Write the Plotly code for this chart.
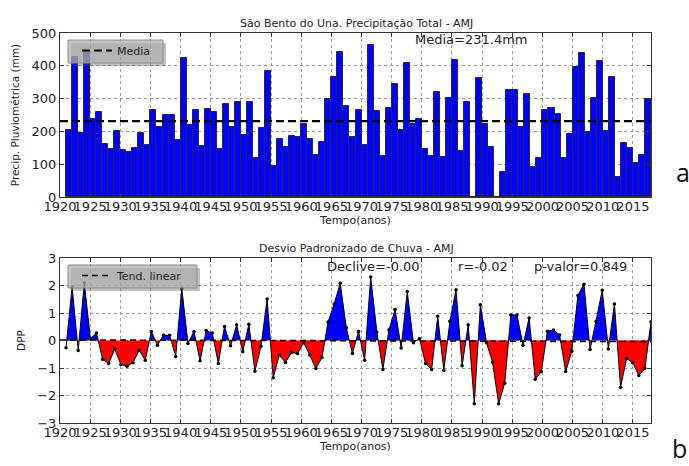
import numpy as np
import plotly.graph_objects as go

W, H = 689, 466

# Precipitação total AMJ (mm), 1921-2017
anos = list(range(1921, 2018))
precip = [
    205, 428, 195, 443, 238, 259, 163, 147, 200, 144,
    137, 150, 196, 159, 265, 214, 251, 251, 173, 423,
    220, 265, 157, 268, 259, 147, 283, 212, 289, 190,
    291, 119, 210, 383, 96, 178, 151, 187, 184, 223,
    178, 129, 169, 299, 365, 441, 278, 184, 265, 159,
    464, 263, 126, 271, 345, 204, 410, 223, 238, 147,
    126, 320, 122, 302, 418, 139, 289, 0, 362, 223,
    152, 0, 75, 325, 325, 214, 314, 90, 118, 266,
    270, 252, 118, 192, 396, 438, 198, 302, 416, 200,
    365, 60, 166, 150, 104, 129, 300,
]

# Desvio padronizado de chuva (DPP), mesmo período
dpp = [
    -0.26, 1.95, -0.36, 2.10, 0.07, 0.27, -0.68, -0.84, -0.31, -0.87,
    -0.94, -0.81, -0.35, -0.72, 0.33, -0.17, 0.19, 0.19, -0.58, 1.90,
    -0.11, 0.33, -0.74, 0.36, 0.27, -0.84, 0.51, -0.19, 0.57, -0.41,
    0.59, -1.12, -0.21, 1.51, -1.35, -0.53, -0.80, -0.44, -0.47, -0.08,
    -0.53, -1.02, -0.62, 0.67, 1.33, 2.08, 0.46, -0.47, 0.33, -0.72,
    2.31, 0.31, -1.05, 0.39, 1.13, -0.27, 1.78, -0.08, 0.07, -0.84,
    -1.05, 0.88, -1.09, 0.70, 1.85, -0.92, 0.57, -2.30, 1.30, -0.08,
    -0.79, -2.30, -1.55, 0.93, 0.93, -0.17, 0.82, -1.41, -1.13, 0.34,
    0.38, 0.20, -1.13, -0.39, 1.64, 2.05, -0.33, 0.70, 1.83, -0.31,
    1.33, -1.70, -0.65, -0.81, -1.27, -1.02, 0.68,
]

media = 231.4
declive_txt = "Declive=-0.00"
r_txt = "r=-0.02"
p_txt = "p-valor=0.849"
xticks = list(range(1920, 2016, 5))
titulo_a = "São Bento do Una. Precipitação Total - AMJ"
titulo_b = "Desvio Padronizado de Chuva - AMJ"

FONT = "DejaVu Sans"
TXT = "#222222"
X_RANGE = [1920, 2018]


def px(x):
    return x / W


def py(y):
    return 1 - y / H


fig = go.Figure()

# --- painel a: barras de precipitação ---
fig.add_trace(go.Bar(
    x=anos, y=precip, width=1, offset=0,
    marker=dict(color="#0000ff", line=dict(color="#2a2a2a", width=1)),
    showlegend=False, xaxis="x", yaxis="y",
))
fig.add_trace(go.Scatter(
    x=X_RANGE, y=[media, media], mode="lines", name="Media",
    line=dict(color="black", width=2.2, dash="8px,4px"),
    xaxis="x", yaxis="y", legend="legend",
))

# --- painel b: DPP com preenchimento acima/abaixo de zero ---
x_dpp = np.linspace(anos[0], anos[-1] + 1, len(dpp))
xs, ys = [x_dpp[0]], [dpp[0]]
for i in range(1, len(dpp)):
    x0, y0, x1, y1 = x_dpp[i - 1], dpp[i - 1], x_dpp[i], dpp[i]
    if y0 * y1 < 0:
        xs.append(x0 + (x1 - x0) * (-y0) / (y1 - y0))
        ys.append(0.0)
    xs.append(x1)
    ys.append(y1)
ys = np.array(ys)

fig.add_trace(go.Scatter(
    x=xs, y=np.maximum(ys, 0), mode="lines", fill="tozeroy",
    fillcolor="#0000ff", line=dict(color="rgba(0,0,0,0)", width=0),
    showlegend=False, xaxis="x2", yaxis="y2",
))
fig.add_trace(go.Scatter(
    x=xs, y=np.minimum(ys, 0), mode="lines", fill="tozeroy",
    fillcolor="#ff0000", line=dict(color="rgba(0,0,0,0)", width=0),
    showlegend=False, xaxis="x2", yaxis="y2",
))

coef = np.polyfit(x_dpp, dpp, 1)
fig.add_trace(go.Scatter(
    x=[X_RANGE[0], X_RANGE[1]], y=np.polyval(coef, X_RANGE), mode="lines",
    name="Tend. linear", line=dict(color="black", width=1.6, dash="6px,4px"),
    xaxis="x2", yaxis="y2", legend="legend2",
))
fig.add_trace(go.Scatter(
    x=x_dpp, y=dpp, mode="lines+markers",
    line=dict(color="black", width=1),
    marker=dict(color="black", size=3.5),
    showlegend=False, xaxis="x2", yaxis="y2",
))

axis_common = dict(
    showline=True, linecolor="#333333", linewidth=1, mirror="allticks",
    ticks="inside", ticklen=4, tickcolor="#333333",
    showgrid=True, gridcolor="#9a9a9a", griddash="dot", gridwidth=1,
    zeroline=False, automargin=False,
    tickfont=dict(family=FONT, size=13, color=TXT),
)

legend_common = dict(
    xanchor="left", yanchor="top",
    bgcolor="rgba(0,0,0,0)", borderwidth=0,
    font=dict(family=FONT, size=11, color=TXT), itemwidth=30,
)

fig.update_layout(
    width=W, height=H,
    margin=dict(l=0, r=0, t=0, b=0),
    paper_bgcolor="white", plot_bgcolor="white",
    font=dict(family=FONT, color=TXT),
    xaxis=dict(
        domain=[px(60), px(651)], range=X_RANGE, tickvals=xticks, tickangle=0,
        anchor="y", ticklabelstandoff=-3,
        title=dict(text="Tempo(anos)", font=dict(size=11, color=TXT), standoff=2),
        **axis_common,
    ),
    yaxis=dict(
        domain=[py(197), py(33)], range=[0, 500], dtick=100, anchor="x",
        title=dict(text="Precip. Pluviométrica (mm)", font=dict(size=10.5, color=TXT), standoff=9),
        **axis_common,
    ),
    xaxis2=dict(
        domain=[px(60), px(651)], range=X_RANGE, tickvals=xticks, tickangle=0,
        anchor="y2", ticklabelstandoff=-3,
        title=dict(text="Tempo(anos)", font=dict(size=11, color=TXT), standoff=2),
        **axis_common,
    ),
    yaxis2=dict(
        domain=[py(423), py(258)], range=[-3, 3], dtick=1, anchor="x2",
        title=dict(text="DPP", font=dict(size=10.5, color=TXT), standoff=9),
        **axis_common,
    ),
    legend=dict(x=px(77), y=py(36), **legend_common),
    legend2=dict(x=px(77), y=py(261), **legend_common),
    bargap=0,
)

# caixas das legendas (sombra + fundo cinza translúcido)
for (x0, y0, x1, y1) in [(68, 40, 163, 63), (68, 265, 197, 288)]:
    fig.add_shape(type="rect", xref="paper", yref="paper", layer="above",
                  x0=px(x0 + 3), x1=px(x1 + 3), y0=py(y1 + 3), y1=py(y0 + 3),
                  fillcolor="rgba(80,80,80,0.35)", line=dict(width=0))
    fig.add_shape(type="rect", xref="paper", yref="paper", layer="above",
                  x0=px(x0), x1=px(x1), y0=py(y1), y1=py(y0),
                  fillcolor="rgba(175,175,175,0.72)",
                  line=dict(color="#8a8a8a", width=1))

ann = [
    dict(text=titulo_a, x=px(356), y=py(23), font=dict(size=11)),
    dict(text=titulo_b, x=px(356), y=py(248), font=dict(size=11)),
    dict(text=f"Media={media:.1f}mm", x=px(413), y=py(40), xanchor="left", font=dict(size=13)),
    dict(text=declive_txt, x=px(325), y=py(266), xanchor="left", font=dict(size=13)),
    dict(text=r_txt, x=px(456), y=py(266), xanchor="left", font=dict(size=13)),
    dict(text=p_txt, x=px(532), y=py(266), xanchor="left", font=dict(size=13)),
    dict(text="a", x=px(674), y=py(172), xanchor="left",
         font=dict(family="Open Sans", size=25, color="#111111")),
    dict(text="b", x=px(670), y=py(448), xanchor="left",
         font=dict(family="Open Sans", size=25, color="#111111")),
]
for a in ann:
    a.setdefault("xanchor", "center")
    a.update(xref="paper", yref="paper", yanchor="middle", showarrow=False)
    a["font"] = dict(family=a["font"].get("family", FONT), size=a["font"]["size"],
                     color=a["font"].get("color", TXT))
    fig.add_annotation(**a)

fig.write_html("out.html")
